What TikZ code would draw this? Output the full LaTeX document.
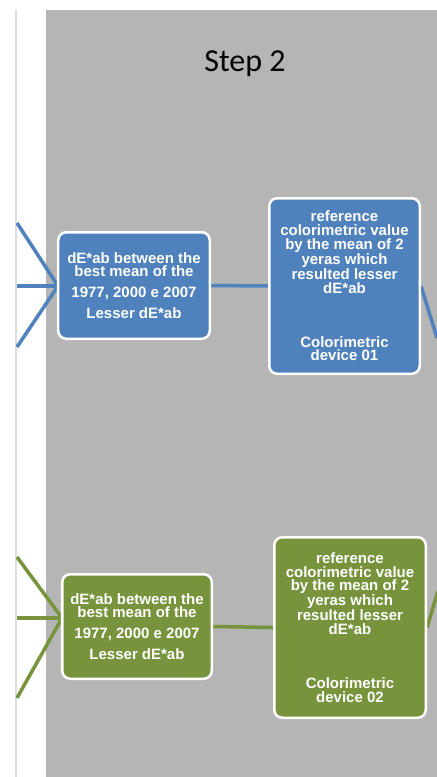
\documentclass[tikz,border=0pt]{standalone}
\usepackage{fontspec}
\setmainfont{Liberation Sans}
\newfontfamily\titlefont{Carlito}
\usetikzlibrary{backgrounds}
\definecolor{myblue}{RGB}{79,129,189}
\definecolor{mygreen}{RGB}{119,147,60}
\definecolor{panelgray}{RGB}{181,181,181}
\definecolor{thingray}{RGB}{222,222,222}
\begin{document}
\begin{tikzpicture}[x=1bp,y=-1bp,
  box/.style={draw=white, line width=2.5bp, rounded corners=8bp, text=white,
    font=\bfseries\fontsize{15bp}{13.8bp}\selectfont, align=center, inner sep=0pt},
  bluebox/.style={box, fill=myblue},
  greenbox/.style={box, fill=mygreen},
  bline/.style={draw=myblue, line width=3.5bp},
  gline/.style={draw=mygreen, line width=3.5bp}]
\useasboundingbox (0,0) rectangle (437,777);

% boxes
\node[bluebox, minimum width=151.5bp, minimum height=106.5bp] (b1) at (134,285.5)
  {dE*ab between the\\best mean of the\\[7bp]1977, 2000 e 2007\\[7bp]Lesser dE*ab};
\node[bluebox, minimum width=150.5bp, minimum height=175.5bp] (b2) at (344.5,286)
  {reference\\colorimetric value\\by the mean of 2\\yeras which\\resulted lesser\\dE*ab\\[40bp]Colorimetric\\device 01};
\node[greenbox, minimum width=149.5bp, minimum height=104.5bp] (g1) at (137,626.5)
  {dE*ab between the\\best mean of the\\[7bp]1977, 2000 e 2007\\[7bp]Lesser dE*ab};
\node[greenbox, minimum width=151.5bp, minimum height=180.5bp] (g2) at (350,627.5)
  {reference\\colorimetric value\\by the mean of 2\\yeras which\\resulted lesser\\dE*ab\\[40bp]Colorimetric\\device 02};

% title
\node[font=\titlefont\fontsize{32bp}{38bp}\selectfont, anchor=base, inner sep=0pt] (title) at (245,72) {Step 2};

% free ends of connectors
\coordinate (bu) at (17,223);
\coordinate (bm) at (17,286);
\coordinate (bd) at (17,347);
\coordinate (bin) at (58,286);
\coordinate (bout) at (437,338);
\coordinate (gu) at (17,557);
\coordinate (gm) at (17,618);
\coordinate (gd) at (17,698);
\coordinate (gin) at (62,618);
\coordinate (gout) at (438,591);

\begin{pgfonlayer}{background}
  \fill[white] (0,0) rectangle (437,777);
  \fill[panelgray] (46,10) rectangle (437,777);
  \draw[thingray, line width=1.5bp] (16,10) -- (16,777);
  % blue connectors
  \draw[bline] (bu) -- (bin) -- (bd);
  \draw[bline] (bm) -- (bin);
  \draw[bline] (b1.east) -- (b2.west);
  \draw[bline] (b2.east) -- (bout);
  % green connectors
  \draw[gline] (gu) -- (gin) -- (gd);
  \draw[gline] (gm) -- (gin);
  \draw[gline] (g1.east) -- (g2.west);
  \draw[gline] (g2.east) -- (gout);
\end{pgfonlayer}
\end{tikzpicture}
\end{document}
